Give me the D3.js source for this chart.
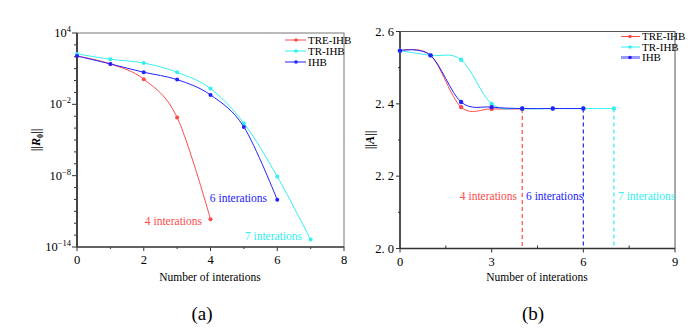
<!DOCTYPE html>
<html>
<head>
  <meta charset="utf-8">
  <title>Convergence</title>
  <script src="https://d3js.org/d3.v7.min.js"></script>
  <style>
    body { margin: 0; background: #fff; }
  </style>
</head>
<body>
  <svg id="grafico"></svg>

  <script>
    // datos
    const series = ["TRE-IHB", "TR-IHB", "IHB"];
    const colores = ["#ff4a4a", "#33f0f0", "#2222ff"];

    // (a) norma del residuo, escala log
    const resTRE = [117, 25, 1.3, 7.9e-4, 2.2e-12];
    const resTR = [174, 62, 30, 5.0, 0.21, 2.6e-4, 8.5e-9, 4.3e-14];
    const resIHB = [117, 25, 5.0, 1.2, 0.062, 1.26e-4, 9.3e-11];
    const ticksA_y = [-14, -8, -2, 4];
    const ticksA_x = [0, 2, 4, 6, 8];

    // (b) norma de A
    const normTRE = [2.547, 2.534, 2.391, 2.386, 2.386];
    const normTR = [2.547, 2.534, 2.522, 2.400, 2.387, 2.387, 2.387, 2.387];
    const normIHB = [2.547, 2.534, 2.405, 2.391, 2.387, 2.387, 2.387];
    const ticksB_y = [2.0, 2.2, 2.4, 2.6];
    const ticksB_x = [0, 3, 6, 9];
    // iteraciones finales: TRE-IHB 4, IHB 6, TR-IHB 7
    const finales = [4, 6, 7];
    const serieFinal = [0, 2, 1];
    const etiquetas = ["4 interations", "6 interations", "7 interations"];

    const svg = d3.select("#grafico")
      .attr("width", 700)
      .attr("height", 333)
      .attr("font-family", "'Liberation Serif', 'DejaVu Serif', serif");

    const curva = d3.curveCardinal.tension(0);

    // ---------- panel (a) ----------
    const xa = d3.scaleLinear().domain([0, 8]).range([77, 344]);
    const ya = d3.scaleLog().domain([1e-14, 1e4]).range([247, 33]);
    const ga = svg.append("g");

    ga.append("rect").attr("x", 77).attr("y", 33).attr("width", 267).attr("height", 214)
      .attr("fill", "none").attr("stroke", "#777").attr("stroke-width", 1);

    // ticks menores por decada
    const decadas = d3.range(-14, 5);
    ga.selectAll(".my").data(decadas).enter().append("line")
      .attr("x1", 77).attr("x2", d => ticksA_y.includes(d) ? 72 : 74)
      .attr("y1", d => ya(Math.pow(10, d))).attr("y2", d => ya(Math.pow(10, d)))
      .attr("stroke", "#333");
    ga.append("line").attr("x1", 77).attr("x2", 77).attr("y1", 33).attr("y2", 247)
      .attr("stroke", "#444").attr("stroke-width", 2);

    const lblY = ga.selectAll(".ly").data(ticksA_y).enter().append("text")
      .attr("x", 71).attr("y", d => ya(Math.pow(10, d)) + 4)
      .attr("text-anchor", "end").attr("font-size", 12.5);
    lblY.append("tspan").text("10");
    lblY.append("tspan").attr("dy", -5).attr("font-size", 8.5)
      .text(d => d < 0 ? "\u2212" + (-d) : d);

    ga.selectAll(".mx").data(d3.range(0, 9)).enter().append("line")
      .attr("x1", d => xa(d)).attr("x2", d => xa(d))
      .attr("y1", 247).attr("y2", d => d % 2 === 0 ? 251 : 249)
      .attr("stroke", "#333");
    ga.append("line").attr("x1", 77).attr("x2", 344).attr("y1", 247).attr("y2", 247)
      .attr("stroke", "#444").attr("stroke-width", 1.5);
    ga.selectAll(".lx").data(ticksA_x).enter().append("text")
      .attr("x", d => xa(d)).attr("y", 264).attr("text-anchor", "middle")
      .attr("font-size", 12.5).text(d => d);

    ga.append("text").attr("x", 210).attr("y", 281).attr("text-anchor", "middle")
      .attr("font-size", 11.5).text("Number of interations");
    ga.append("text").attr("x", 202).attr("y", 320).attr("text-anchor", "middle")
      .attr("font-size", 19).text("(a)");

    const tA = ga.append("text").attr("transform", "translate(40,140) rotate(-90)")
      .attr("text-anchor", "middle").attr("font-size", 12).attr("font-weight", "bold");
    tA.append("tspan").text("||");
    tA.append("tspan").attr("font-style", "italic").text("R");
    tA.append("tspan").attr("dy", 3).attr("font-size", 8).text("0");
    tA.append("tspan").attr("dy", -3).text("||");

    const datosA = [resTRE, resTR, resIHB];
    const lineaA = d3.line().x((d, i) => xa(i)).y(d => ya(d)).curve(curva);
    datosA.forEach((s, k) => {
      ga.append("path").datum(s).attr("d", lineaA)
        .attr("fill", "none").attr("stroke", colores[k]).attr("stroke-width", 1);
      ga.selectAll(".p" + k).data(s).enter().append("circle")
        .attr("cx", (d, i) => xa(i)).attr("cy", d => ya(d)).attr("r", 2)
        .attr("fill", colores[k]);
    });

    const posA = [[202, 225], [267, 202], [302, 240]];
    finales.forEach((f, k) => {
      ga.append("text").attr("x", posA[k][0]).attr("y", posA[k][1])
        .attr("text-anchor", "end").attr("font-size", 11.5)
        .attr("fill", colores[serieFinal[k]])
        .text(etiquetas[k]);
    });

    series.forEach((s, k) => {
      const yy = 40 + k * 11;
      ga.append("line").attr("x1", 285).attr("x2", 306).attr("y1", yy).attr("y2", yy)
        .attr("stroke", colores[k]);
      ga.append("circle").attr("cx", 296).attr("cy", yy).attr("r", 1.8).attr("fill", colores[k]);
      ga.append("text").attr("x", 308).attr("y", yy + 3.5).attr("font-size", 11).text(s);
    });

    // ---------- panel (b) ----------
    const xb = d3.scaleLinear().domain([0, 9]).range([400, 675]);
    const yb = d3.scaleLinear().domain([2.0, 2.6]).range([248.5, 31.5]);
    const gb = svg.append("g");

    gb.append("rect").attr("x", 400).attr("y", 31.5).attr("width", 275).attr("height", 217)
      .attr("fill", "none").attr("stroke", "#555").attr("stroke-width", 1);

    gb.selectAll(".my").data(d3.range(2.0, 2.61, 0.1)).enter().append("line")
      .attr("x1", 400).attr("x2", (d, i) => i % 2 === 0 ? 396 : 398)
      .attr("y1", d => yb(d)).attr("y2", d => yb(d)).attr("stroke", "#333");
    gb.append("line").attr("x1", 400).attr("x2", 400).attr("y1", 31.5).attr("y2", 248.5)
      .attr("stroke", "#333").attr("stroke-width", 1.5);
    gb.selectAll(".ly").data(ticksB_y).enter().append("text")
      .attr("x", 394).attr("y", d => yb(d) + 4).attr("text-anchor", "end")
      .attr("font-size", 12.5).text(d => d3.format(".1f")(d).replace(".", ". "));

    gb.selectAll(".mx").data(d3.range(0, 9.1, 1.5)).enter().append("line")
      .attr("x1", d => xb(d)).attr("x2", d => xb(d))
      .attr("y1", 248.5).attr("y2", (d, i) => i % 2 === 0 ? 252.5 : 245.5)
      .attr("stroke", "#333");
    gb.append("line").attr("x1", 400).attr("x2", 675).attr("y1", 248.5).attr("y2", 248.5)
      .attr("stroke", "#333").attr("stroke-width", 1.5);
    gb.selectAll(".lx").data(ticksB_x).enter().append("text")
      .attr("x", d => xb(d)).attr("y", 266).attr("text-anchor", "middle")
      .attr("font-size", 12.5).text(d => d);

    gb.append("text").attr("x", 537).attr("y", 281).attr("text-anchor", "middle")
      .attr("font-size", 11.5).text("Number of interations");
    gb.append("text").attr("x", 533).attr("y", 320).attr("text-anchor", "middle")
      .attr("font-size", 19).text("(b)");

    const tB = gb.append("text").attr("transform", "translate(374,140) rotate(-90)")
      .attr("text-anchor", "middle").attr("font-size", 12).attr("font-weight", "bold");
    tB.append("tspan").text("||");
    tB.append("tspan").attr("font-style", "italic").text("A");
    tB.append("tspan").text("||");

    const datosB = [normTRE, normTR, normIHB];

    // lineas discontinuas hasta el eje
    finales.forEach((f, k) => {
      const s = datosB[serieFinal[k]];
      gb.append("line").attr("x1", xb(f)).attr("x2", xb(f))
        .attr("y1", yb(s[s.length - 1])).attr("y2", yb(2.0))
        .attr("stroke", colores[serieFinal[k]]).attr("stroke-width", 1.2)
        .attr("stroke-dasharray", "4,3");
    });

    const lineaB = d3.line().x((d, i) => xb(i)).y(d => yb(d)).curve(curva);
    datosB.forEach((s, k) => {
      gb.append("path").datum(s).attr("d", lineaB)
        .attr("fill", "none").attr("stroke", colores[k]).attr("stroke-width", 1);
    });
    datosB.forEach((s, k) => {
      gb.selectAll(".p" + k).data(s).enter().append("circle")
        .attr("cx", (d, i) => xb(i)).attr("cy", d => yb(d)).attr("r", 2.2)
        .attr("fill", colores[k]);
    });

    const posB = [[517, "end"], [526, "start"], [618, "start"]];
    finales.forEach((f, k) => {
      gb.append("text").attr("x", posB[k][0]).attr("y", 200)
        .attr("text-anchor", posB[k][1]).attr("font-size", 11.5)
        .attr("fill", colores[serieFinal[k]])
        .text(etiquetas[k]);
    });

    series.forEach((s, k) => {
      const yy = 36.5 + k * 10.5;
      gb.append("line").attr("x1", 621).attr("x2", 640).attr("y1", yy).attr("y2", yy)
        .attr("stroke", colores[k]).attr("stroke-width", k === 2 ? 3 : 1)
        .attr("stroke-opacity", k === 2 ? 0.45 : 1);
      gb.append("circle").attr("cx", 630).attr("cy", yy).attr("r", 1.8).attr("fill", colores[k]);
      gb.append("text").attr("x", 642).attr("y", yy + 3.5).attr("font-size", 11).text(s);
    });
  </script>
</body>
</html>
